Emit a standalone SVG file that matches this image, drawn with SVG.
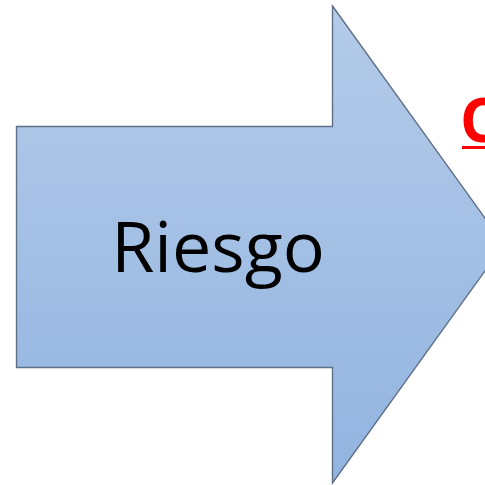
<svg xmlns="http://www.w3.org/2000/svg" width="485" height="485" viewBox="0 0 485 485">
  <defs>
    <linearGradient id="arrowFill" x1="0" y1="0" x2="0" y2="1">
      <stop offset="0" stop-color="#b4cbe9"/>
      <stop offset="1" stop-color="#92b4e0"/>
    </linearGradient>
    <style>
      .arrow { fill: url(#arrowFill); stroke: #5f6f86; stroke-width: 1.4; stroke-linejoin: miter; }
      .label { font-family: "Open Sans", "Noto Sans", "Liberation Sans", sans-serif; font-size: 70px; fill: #000; }
      .title { font-family: "Open Sans", "Noto Sans", "Liberation Sans", sans-serif; font-size: 60px; font-weight: bold; fill: #ff0000; }
    </style>
  </defs>
  <rect width="485" height="485" fill="#ffffff"/>

  <!-- block arrow pointing right -->
  <g id="riesgo">
    <path class="arrow" d="M16.5,126.5 L332.5,126.5 L332.5,6 L504,244.5 L332.5,483 L332.5,367.5 L16.5,367.5 Z"/>
    <text class="label" x="218" y="272" text-anchor="middle">Riesgo</text>
  </g>

  <!-- heading, cut off at the right edge -->
  <g id="heading">
    <text class="title" x="460" y="142">C</text>
    <rect x="462" y="146" width="23" height="3" fill="#ff0000"/>
  </g>
</svg>
